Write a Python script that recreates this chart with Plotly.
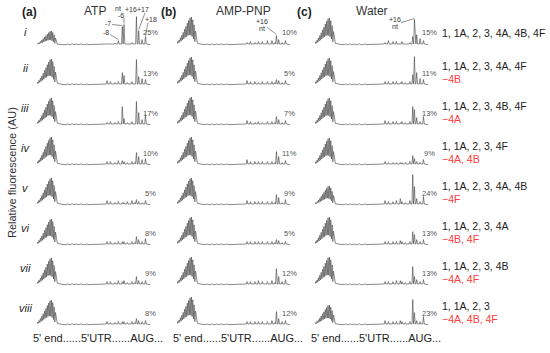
import plotly.graph_objects as go

FONT = "Arial, Liberation Sans, sans-serif"
W, H = 550, 353

# ---------------- data ----------------
COLUMN_TITLES = ["ATP", "AMP-PNP", "Water"]
COLUMN_TAGS = ["(a)", "(b)", "(c)"]
ROW_LABELS = ["i", "ii", "iii", "iv", "v", "vi", "vii", "viii"]

# shared shape of the 5'-end ladder (relative heights of successive peaks / troughs)
LADDER_PEAKS = [0.12, 0.18, 0.26, 0.35, 0.45, 0.56, 0.66, 0.78, 0.88, 0.97, 1.0, 0.9, 0.72, 0.5]
LADDER_TROUGHS = [0.04, 0.07, 0.1, 0.14, 0.18, 0.22, 0.27, 0.3, 0.34, 0.36, 0.35, 0.3, 0.22, 0.12]
LADDER_TAIL = [0.06, 0.04, 0.03, 0.02]
TAIL_POS = [18, 19.5, 21, 23]

# small bumps along the 5'UTR baseline
BUMP_POS = [27, 31, 35, 39, 44, 49, 54]
BUMP_H = [0.6, 0.8, 0.6, 0.9, 0.6, 0.5, 0.6]

# downstream peak positions (% of trace length)
PEAK_POS = [62, 65, 69, 72, 75.5, 77, 80, 84, 86.5, 88, 90, 93, 96]

# ladder maximum heights per row
LADDER_ATP = [14, 26, 27, 28, 27, 26, 27, 25]
LADDER_AMPPNP = [28, 28, 28, 28, 27, 28, 28, 28]
LADDER_WATER = [27, 27, 27, 27, 19, 28, 28, 20]

PEAKS_ATP = [
    [1, 1, 1.5, 4, 18, 20, 1, 2, 1, 28, 14, 5, 8],
    [4, 3, 2, 3, 12, 9, 2, 3, 1, 25, 8, 6, 5],
    [2, 3, 2, 3, 18, 6, 2, 3, 1, 23, 12, 5, 10],
    [3, 3, 2, 4, 4, 3, 2, 3, 2, 12, 8, 5, 6],
    [4, 3, 2, 3, 2, 2, 3, 4, 2, 5, 3, 2, 4],
    [3, 3, 2, 3, 3, 3, 2, 3, 2, 8, 5, 3, 6],
    [3, 3, 2, 4, 3, 4, 2, 3, 2, 8, 4, 3, 4],
    [3, 2, 2, 3, 3, 3, 2, 3, 2, 6, 4, 3, 4],
]
PEAKS_AMPPNP = [
    [2, 3, 2, 3, 3, 1, 4, 4, 2, 9, 5, 2, 4],
    [4, 3, 3, 2, 3, 1, 3, 3, 2, 5, 4, 2, 4],
    [4, 3, 2, 3, 2, 1, 3, 3, 2, 8, 5, 2, 4],
    [5, 3, 3, 3, 3, 1, 3, 3, 2, 13, 8, 2, 4],
    [4, 3, 3, 3, 3, 1, 3, 3, 2, 10, 7, 2, 5],
    [3, 3, 3, 3, 3, 1, 3, 3, 2, 5, 4, 2, 3],
    [3, 3, 3, 4, 3, 1, 3, 4, 2, 16, 8, 3, 5],
    [3, 3, 3, 3, 3, 1, 3, 4, 2, 13, 6, 3, 4],
]
PEAKS_WATER = [
    [2, 4, 3, 3, 1, 3, 1, 2, 8, 25, 10, 6, 4],
    [3, 3, 3, 3, 2, 3, 2, 3, 10, 28, 12, 6, 5],
    [4, 3, 3, 3, 2, 3, 2, 3, 18, 15, 7, 3, 8],
    [3, 2, 2, 2, 2, 2, 2, 3, 9, 6, 3, 2, 5],
    [4, 3, 3, 4, 6, 3, 2, 4, 30, 18, 6, 3, 8],
    [3, 3, 3, 3, 4, 3, 2, 3, 13, 10, 5, 3, 5],
    [3, 3, 3, 4, 4, 3, 2, 3, 18, 8, 5, 3, 5],
    [4, 3, 3, 3, 4, 3, 2, 3, 25, 12, 4, 3, 8],
]

PERCENT_ATP = [25, 13, 17, 10, 5, 8, 9, 8]
PERCENT_AMPPNP = [10, 5, 7, 11, 9, 5, 12, 12]
PERCENT_WATER = [15, 11, 13, 9, 24, 13, 13, 23]

PRESENT = [
    "1, 1A, 2, 3, 4A, 4B, 4F",
    "1, 1A, 2, 3, 4A, 4F",
    "1, 1A, 2, 3, 4B, 4F",
    "1, 1A, 2, 3, 4F",
    "1, 1A, 2, 3, 4A, 4B",
    "1, 1A, 2, 3, 4A",
    "1, 1A, 2, 3, 4B",
    "1, 1A, 2, 3",
]
ABSENT = ["", "−4B", "−4A", "−4A, 4B", "−4F", "−4B, 4F", "−4A, 4F", "−4A, 4B, 4F"]

X_LABEL = "5' end......5'UTR......AUG..."
Y_TITLE = "Relative fluorescence (AU)"

LADDERS = [LADDER_ATP, LADDER_AMPPNP, LADDER_WATER]
PEAKS = [PEAKS_ATP, PEAKS_AMPPNP, PEAKS_WATER]
PERCENTS = [PERCENT_ATP, PERCENT_AMPPNP, PERCENT_WATER]

# ---------------- layout geometry (pixels) ----------------
COL_X = [37, 177, 315]
COL_W = 113
ROW_BASE0 = 45
ROW_STEP = 40
PANEL_H = 36
PCT_X = [150, 289, 429]
BASE_LEVEL = 0.4
LINE_COLOR = "#4a4a4a"
TEXT_COLOR = "#222222"
RED = "#ff3b3b"


def px(x):
    return x / W


def py(y):
    return 1 - y / H


def base_of(r):
    return ROW_BASE0 + ROW_STEP * r


def build_trace(ladder_h, peaks):
    xs, ys = [], []
    n = len(LADDER_PEAKS)
    step = 17.0 / n
    for i in range(n):
        x = i * step
        xs += [x, x + step * 0.5]
        ys += [LADDER_TROUGHS[i] * ladder_h, LADDER_PEAKS[i] * ladder_h]
    for tx, tv in zip(TAIL_POS, LADDER_TAIL):
        xs.append(tx)
        ys.append(tv * ladder_h)
    for bx, bh in zip(BUMP_POS, BUMP_H):
        xs += [bx - 1.2, bx, bx + 1.2]
        ys += [BASE_LEVEL, BASE_LEVEL + bh, BASE_LEVEL]
    xs.append(58)
    ys.append(BASE_LEVEL)
    for p, h in zip(PEAK_POS, peaks):
        xs += [p - 0.7, p, p + 0.7]
        ys += [BASE_LEVEL + 0.6, BASE_LEVEL + h, BASE_LEVEL + 0.6]
    xs.append(100)
    ys.append(BASE_LEVEL)
    return xs, ys


def peak_pixel(c, r, i):
    """Pixel position of the top of peak i in panel (c, r), derived from the data."""
    x = COL_X[c] + PEAK_POS[i] / 100.0 * COL_W
    y = base_of(r) - (BASE_LEVEL + PEAKS[c][r][i])
    return x, y


fig = go.Figure()
annotations = []
shapes = []
layout_axes = {}

idx = 0
for c in range(3):
    for r in range(8):
        idx += 1
        xa = "x" if idx == 1 else f"x{idx}"
        ya = "y" if idx == 1 else f"y{idx}"
        b = base_of(r)
        xs, ys = build_trace(LADDERS[c][r], PEAKS[c][r])
        fig.add_trace(go.Scatter(x=xs, y=ys, mode="lines", xaxis=xa, yaxis=ya,
                                 line=dict(color=LINE_COLOR, width=0.65),
                                 hoverinfo="skip", showlegend=False))
        xd = [px(COL_X[c]), px(COL_X[c] + COL_W)]
        yd = [py(b + 1), py(b + 1 - PANEL_H)]
        key = "" if idx == 1 else str(idx)
        layout_axes[f"xaxis{key}"] = dict(domain=xd, range=[0, 100], visible=False,
                                          anchor=ya, fixedrange=True)
        layout_axes[f"yaxis{key}"] = dict(domain=yd, range=[-1, PANEL_H - 1], visible=False,
                                          anchor=xa, fixedrange=True)
        annotations.append(dict(x=px(PCT_X[c]), y=py(b - 12), xref="paper", yref="paper",
                                text=f"{PERCENTS[c][r]}%", showarrow=False,
                                font=dict(family=FONT, size=7.5, color="#555555"),
                                xanchor="center", yanchor="middle"))


def text(t, x, y, size=11, color=TEXT_COLOR, anchor="center", **kw):
    annotations.append(dict(x=px(x), y=py(y), xref="paper", yref="paper", text=t,
                            showarrow=False, font=dict(family=FONT, size=size, color=color),
                            xanchor=anchor, yanchor="middle", **kw))


def leader(x0, y0, c, r, i):
    x1, y1 = peak_pixel(c, r, i)
    shapes.append(dict(type="line", xref="paper", yref="paper",
                       x0=px(x0), y0=py(y0), x1=px(x1), y1=py(y1 - 1),
                       line=dict(color="#444444", width=0.6)))


# column headers
tag_x = [29, 168, 304]
title_x = [95, 243, 372]
for c in range(3):
    text(f"<b>{COLUMN_TAGS[c]}</b>", tag_x[c], 12, size=12)
    text(COLUMN_TITLES[c], title_x[c], 11.5, size=12, color="#333333")
    text(X_LABEL, COL_X[c] + 61, 338, size=11)

# row labels and condition labels
for r in range(8):
    b = base_of(r)
    if ABSENT[r]:
        text(f"<i>{ROW_LABELS[r]}</i>", 25, b - 17, size=11)
        text(PRESENT[r], 440, b - 19, size=10.5, anchor="left")
        text(ABSENT[r], 440, b - 6, size=10.5, color=RED, anchor="left")
    else:
        text(f"<i>{ROW_LABELS[r]}</i>", 25, b - 13, size=11)
        text(PRESENT[r], 440, b - 12.5, size=10.5, anchor="left")

# y title
annotations.append(dict(x=px(12), y=py(173), xref="paper", yref="paper", text=Y_TITLE,
                        textangle=-90, showarrow=False,
                        font=dict(family=FONT, size=11, color="#333333"),
                        xanchor="center", yanchor="middle"))

# peak call-outs, ATP row i
SMALL = 7
text("nt", 118, 8.5, size=SMALL, color="#333333")
text("+16", 131, 9.5, size=SMALL, color="#333333")
text("+17", 143, 9.5, size=SMALL, color="#333333")
text("-6", 121, 15.5, size=SMALL, color="#333333")
text("-7", 108, 23, size=SMALL, color="#333333")
text("-8", 106, 33, size=SMALL, color="#333333")
text("+18", 151, 19.5, size=SMALL, color="#333333")
leader(124, 18, 0, 0, 5)
leader(112, 24.5, 0, 0, 4)
leader(110, 34.5, 0, 0, 3)
leader(145, 13, 0, 0, 10)
leader(148, 22.5, 0, 0, 12)
# AMP-PNP row i
text("+16", 262, 21.5, size=SMALL, color="#333333")
text("nt", 262, 28.5, size=SMALL, color="#333333")
leader(267, 27, 1, 0, 9)
# Water row i
text("+16", 395, 19.5, size=SMALL, color="#333333")
text("nt", 395, 26.5, size=SMALL, color="#333333")
leader(401, 22.5, 2, 0, 9)

fig.update_layout(width=W, height=H, margin=dict(l=0, r=0, t=0, b=0),
                  paper_bgcolor="white", plot_bgcolor="white",
                  annotations=annotations, shapes=shapes, showlegend=False, **layout_axes)

# remove the browser's default 8px page margin so the figure sits at the window origin
fig.write_html("out.html", config={"displayModeBar": False},
               post_script="document.body.style.margin='0';")
